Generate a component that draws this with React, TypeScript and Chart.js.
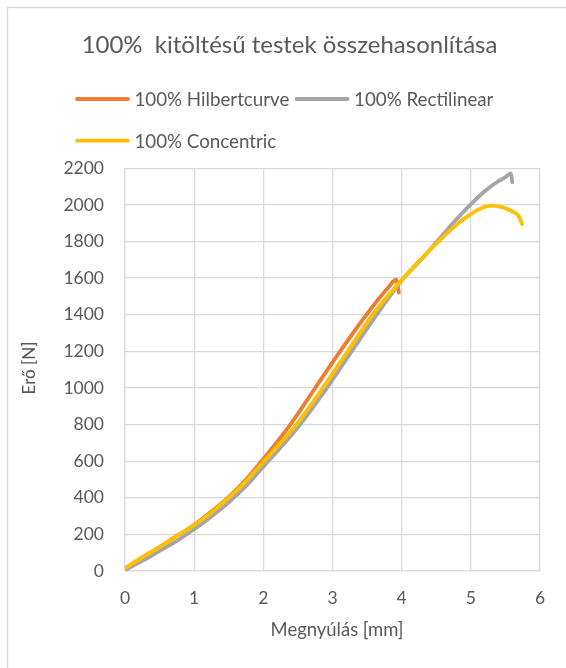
import React, { useEffect, useRef } from "react";
import { Chart, registerables } from "chart.js";

Chart.register(...registerables);

const TITLE = "100%  kitöltésű testek összehasonlítása";
const X_TITLE = "Megnyúlás [mm]";
const Y_TITLE = "Erő [N]";

const SERIES_NAMES = ["100% Hilbertcurve", "100% Rectilinear", "100% Concentric"];
const SERIES_COLORS = ["#ED7D31", "#A5A5A5", "#FFC000"];

const HILBERT_X = [0, 0.25, 0.5, 0.75, 1, 1.25, 1.5, 1.75, 2, 2.39, 2.75, 3.11, 3.49, 3.81, 3.92, 3.96];
const HILBERT_Y = [15, 75, 132, 192, 252, 325, 405, 500, 612, 800, 1000, 1200, 1400, 1550, 1591, 1521];

const RECTI_X = [0, 0.25, 0.5, 0.75, 1, 1.25, 1.5, 1.75, 2, 2.25, 2.5, 2.9, 3.26, 3.62, 4.03, 4.28, 4.51, 4.74, 4.99, 5.2, 5.38, 5.5, 5.58, 5.6];
const RECTI_Y = [5, 55, 110, 165, 228, 298, 375, 465, 570, 675, 785, 990, 1190, 1390, 1600, 1700, 1800, 1900, 2000, 2075, 2125, 2152, 2172, 2124];

const CONC_X = [0, 0.25, 0.5, 0.75, 1, 1.25, 1.5, 1.75, 2, 2.25, 2.5, 2.86, 3.22, 3.58, 4.0, 4.27, 4.53, 4.82, 5.0, 5.15, 5.3, 5.45, 5.58, 5.69, 5.74];
const CONC_Y = [15, 75, 130, 190, 250, 320, 400, 490, 595, 700, 810, 1000, 1200, 1400, 1590, 1700, 1800, 1900, 1950, 1982, 1996, 1988, 1968, 1940, 1895];

const X_MIN = 0;
const X_MAX = 6;
const X_STEP = 1;
const Y_MIN = 0;
const Y_MAX = 2200;
const Y_STEP = 200;

const FONT = "Lato, 'Open Sans', sans-serif";
const TEXT_COLOR = "#595959";
const GRID_COLOR = "#d9d9d9";

const toPoints = (xs: number[], ys: number[]) => xs.map((x, i) => ({ x, y: ys[i] }));

// choose a font size so that the text has the wanted width
const fitFont = (ctx: CanvasRenderingContext2D, text: string, width: number) => {
  ctx.font = `20px ${FONT}`;
  const w = ctx.measureText(text).width;
  return (20 * width) / w;
};

const decorPlugin = {
  id: "decor",
  beforeDraw(chart: any) {
    const ctx = chart.ctx;
    ctx.save();
    ctx.fillStyle = "#ffffff";
    ctx.fillRect(0, 0, chart.width, chart.height);
    ctx.strokeStyle = GRID_COLOR;
    ctx.lineWidth = 1.3;
    ctx.strokeRect(7.5, 7.5, chart.width + 20, chart.height + 20);
    ctx.restore();
  },
  afterDraw(chart: any) {
    const ctx = chart.ctx;
    ctx.save();
    ctx.fillStyle = TEXT_COLOR;
    ctx.textBaseline = "alphabetic";
    // title
    const ts = fitFont(ctx, TITLE, 416);
    ctx.font = `${ts}px ${FONT}`;
    ctx.textAlign = "center";
    ctx.fillText(TITLE, 289.5, 52.5);
    // legend
    const ls = fitFont(ctx, chart.data.datasets[0].label, 155);
    ctx.font = `${ls}px ${FONT}`;
    ctx.textAlign = "left";
    const legendPos = [
      { x: 77, y: 99, tx: 134.4 },
      { x: 296.5, y: 99, tx: 354 },
      { x: 77, y: 140.7, tx: 134.4 },
    ];
    chart.data.datasets.forEach((ds: any, i: number) => {
      const p = legendPos[i];
      ctx.strokeStyle = ds.borderColor;
      ctx.lineWidth = 3.8;
      ctx.lineCap = "round";
      ctx.beginPath();
      ctx.moveTo(p.x, p.y);
      ctx.lineTo(p.x + 51, p.y);
      ctx.stroke();
      ctx.fillText(ds.label, p.tx, p.y + 6.8);
    });
    // axis titles
    const xs = fitFont(ctx, X_TITLE, 133);
    ctx.font = `${xs}px ${FONT}`;
    ctx.textAlign = "center";
    ctx.fillText(X_TITLE, 337, 635.7);
    ctx.font = `17px ${FONT}`;
    ctx.translate(34.5, 368);
    ctx.rotate(-Math.PI / 2);
    ctx.fillText(Y_TITLE, 0, 0);
    ctx.restore();
  },
};

export default function App() {
  const ref = useRef<HTMLCanvasElement | null>(null);
  useEffect(() => {
    if (!ref.current) return;
    const chart = new Chart(ref.current, {
      type: "line",
      data: {
        datasets: [
          {
            label: SERIES_NAMES[0],
            data: toPoints(HILBERT_X, HILBERT_Y),
            borderColor: SERIES_COLORS[0],
            backgroundColor: SERIES_COLORS[0],
            order: 3,
          },
          {
            label: SERIES_NAMES[1],
            data: toPoints(RECTI_X, RECTI_Y),
            borderColor: SERIES_COLORS[1],
            backgroundColor: SERIES_COLORS[1],
            order: 2,
          },
          {
            label: SERIES_NAMES[2],
            data: toPoints(CONC_X, CONC_Y),
            borderColor: SERIES_COLORS[2],
            backgroundColor: SERIES_COLORS[2],
            order: 1,
          },
        ],
      },
      options: {
        animation: false,
        responsive: false,
        devicePixelRatio: 1,
        elements: {
          point: { radius: 0 },
          line: { borderWidth: 3.8, cubicInterpolationMode: "monotone", borderCapStyle: "round", borderJoinStyle: "round" },
        },
        layout: { padding: { top: 168.3, right: 26, left: 10, bottom: 57 } },
        plugins: {
          legend: { display: false },
          title: { display: false },
          tooltip: { enabled: false },
        },
        scales: {
          x: {
            type: "linear",
            min: X_MIN,
            max: X_MAX,
            ticks: { stepSize: X_STEP, color: TEXT_COLOR, font: { family: FONT, size: 17.5 }, padding: 17, callback: (v: any) => `${v}` },
            grid: { color: GRID_COLOR, lineWidth: 1.3, drawTicks: false },
            border: { color: GRID_COLOR, width: 1.3 },
            afterFit: (s: any) => { s.height = 40; },
          },
          y: {
            type: "linear",
            min: Y_MIN,
            max: Y_MAX,
            ticks: { stepSize: Y_STEP, color: TEXT_COLOR, font: { family: FONT, size: 17.5 }, padding: 21, callback: (v: any) => `${v}` },
            grid: { color: GRID_COLOR, lineWidth: 1.3, drawTicks: false },
            border: { color: GRID_COLOR, width: 1.3 },
            afterFit: (s: any) => { s.width = 115; },
          },
        },
      },
      plugins: [decorPlugin],
    } as any);
    return () => chart.destroy();
  }, []);
  return (
    <div style={{ position: "absolute", left: 0, top: 0, width: 566, height: 668 }}>
      <canvas ref={ref} width={566} height={668} style={{ display: "block" }} />
    </div>
  );
}
